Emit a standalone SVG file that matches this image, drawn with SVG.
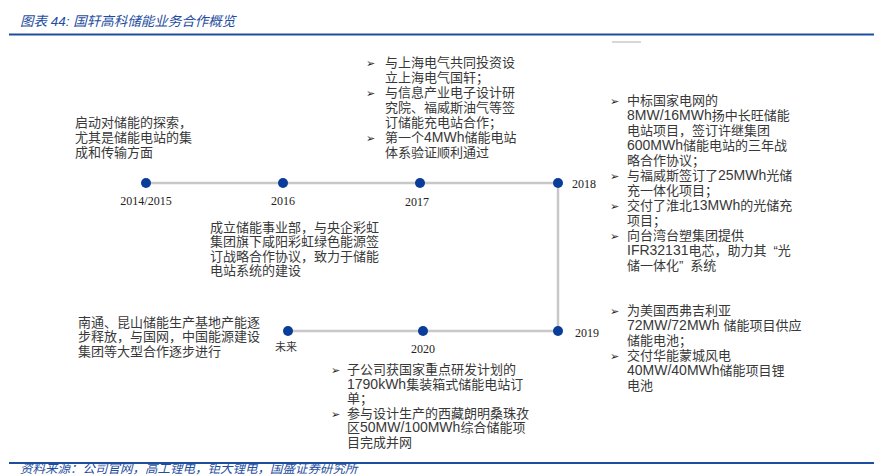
<svg xmlns="http://www.w3.org/2000/svg" width="874" height="476" viewBox="0 0 874 476">
<style>
.t{font-family:"Liberation Sans","Noto Sans CJK SC",sans-serif;font-size:13px;fill:#383838}
.l{font-family:"Liberation Sans","Noto Sans CJK SC",sans-serif;font-size:14px}
.y{font-family:"Liberation Serif",serif;font-size:12px;fill:#222}
.b{font-family:"DejaVu Sans",sans-serif;font-size:11px;fill:#222}
.ttl{font-family:"Liberation Sans","Noto Sans CJK SC",sans-serif;font-size:13.5px;font-style:italic;fill:#1f4e9f}
.src{font-family:"Liberation Sans","Noto Sans CJK SC",sans-serif;font-size:12.5px;font-style:italic;fill:#1f4e9f}
.ln{stroke:#c8c8c8;stroke-width:2.5;fill:none}
.dot{fill:#0a3c99}
</style>
<g id="header">
<text class="ttl" x="20" y="26">图表 44: 国轩高科储能业务合作概览</text>
<line x1="9" y1="34.5" x2="874" y2="34.5" stroke="#1f4e9f" stroke-width="2"/>
<line x1="612" y1="42" x2="641" y2="42" stroke="#b0b0b0" stroke-width="1"/>
</g>
<g id="connectors">
<polyline class="ln" points="146,183 558,183 558,331 288,331"/>
</g>
<g id="n2014">
<circle class="dot" cx="146" cy="183" r="5"/>
<text class="y" x="146" y="205" text-anchor="middle">2014/2015</text>
<text class="t" x="75" y="127">启动对储能的探索，</text>
<text class="t" x="75" y="142">尤其是储能电站的集</text>
<text class="t" x="75" y="157">成和传输方面</text>
</g>
<g id="n2016">
<circle class="dot" cx="283" cy="183" r="5"/>
<text class="y" x="283" y="205" text-anchor="middle">2016</text>
<text class="t" x="210" y="231.5">成立储能事业部，与央企彩虹</text>
<text class="t" x="210" y="246">集团旗下咸阳彩虹绿色能源签</text>
<text class="t" x="210" y="260.5">订战略合作协议，致力于储能</text>
<text class="t" x="210" y="275">电站系统的建设</text>
</g>
<g id="n2017">
<circle class="dot" cx="420" cy="183" r="5"/>
<text class="y" x="417" y="206" text-anchor="middle">2017</text>
<text class="b" x="366" y="67">➢</text>
<text class="t" x="385" y="67">与上海电气共同投资设</text>
<text class="t" x="385" y="82">立上海电气国轩；</text>
<text class="b" x="366" y="97">➢</text>
<text class="t" x="385" y="97">与信息产业电子设计研</text>
<text class="t" x="385" y="112">究院、福威斯油气等签</text>
<text class="t" x="385" y="127">订储能充电站合作；</text>
<text class="b" x="366" y="142">➢</text>
<text class="t" x="385" y="142">第一个<tspan class="l">4MWh</tspan>储能电站</text>
<text class="t" x="385" y="157">体系验证顺利通过</text>
</g>
<g id="n2018">
<circle class="dot" cx="558" cy="183" r="5"/>
<text class="y" x="572" y="188">2018</text>
<text class="b" x="610" y="104.5">➢</text>
<text class="t" x="627" y="104.5">中标国家电网的</text>
<text class="t" x="627" y="119.5"><tspan class="l">8MW/16MWh</tspan>扬中长旺储能</text>
<text class="t" x="627" y="134.5">电站项目，签订许继集团</text>
<text class="t" x="627" y="149.5"><tspan class="l">600MWh</tspan>储能电站的三年战</text>
<text class="t" x="627" y="164.5">略合作协议；</text>
<text class="b" x="610" y="179.5">➢</text>
<text class="t" x="627" y="179.5">与福威斯签订了<tspan class="l">25MWh</tspan>光储</text>
<text class="t" x="627" y="194.5">充一体化项目；</text>
<text class="b" x="610" y="209.5">➢</text>
<text class="t" x="627" y="209.5">交付了淮北<tspan class="l">13MWh</tspan>的光储充</text>
<text class="t" x="627" y="224.5">项目；</text>
<text class="b" x="610" y="239.5">➢</text>
<text class="t" x="627" y="239.5">向台湾台塑集团提供</text>
<text class="t" x="627" y="254.5"><tspan class="l">IFR32131</tspan>电芯，助力其<tspan dx="7">“</tspan>光</text>
<text class="t" x="627" y="269.5">储一体化”<tspan dx="7">系统</tspan></text>
</g>
<g id="n2019">
<circle class="dot" cx="558" cy="331" r="5"/>
<text class="y" x="575" y="337">2019</text>
<text class="b" x="610" y="314.5">➢</text>
<text class="t" x="627" y="314.5">为美国西弗吉利亚</text>
<text class="t" x="627" y="329.5"><tspan class="l">72MW/72MWh </tspan>储能项目供应</text>
<text class="t" x="627" y="344.5">储能电池；</text>
<text class="b" x="610" y="359.5">➢</text>
<text class="t" x="627" y="359.5">交付华能蒙城风电</text>
<text class="t" x="627" y="374.5"><tspan class="l">40MW/40MWh</tspan>储能项目锂</text>
<text class="t" x="627" y="389.5">电池</text>
</g>
<g id="n2020">
<circle class="dot" cx="423" cy="331" r="5"/>
<text class="y" x="423" y="353" text-anchor="middle">2020</text>
<text class="b" x="331" y="374">➢</text>
<text class="t" x="347" y="374">子公司获国家重点研发计划的</text>
<text class="t" x="347" y="388.5"><tspan class="l">1790kWh</tspan>集装箱式储能电站订</text>
<text class="t" x="347" y="403">单；</text>
<text class="b" x="331" y="417.5">➢</text>
<text class="t" x="347" y="417.5">参与设计生产的西藏朗明桑珠孜</text>
<text class="t" x="347" y="432">区<tspan class="l">50MW/100MWh</tspan>综合储能项</text>
<text class="t" x="347" y="446.5">目完成并网</text>
</g>
<g id="nFuture">
<circle class="dot" cx="288" cy="331" r="5"/>
<text class="t" x="286" y="351" text-anchor="middle" style="font-size:11px">未来</text>
<text class="t" x="78" y="326.5">南通、昆山储能生产基地产能逐</text>
<text class="t" x="78" y="341">步释放，与国网，中国能源建设</text>
<text class="t" x="78" y="355.5">集团等大型合作逐步进行</text>
</g>
<g id="footer">
<line x1="9" y1="463" x2="874" y2="463" stroke="#1f4e9f" stroke-width="2"/>
<text class="src" x="20" y="473">资料来源：公司官网，高工锂电，钜大锂电，国盛证券研究所</text>
</g>
</svg>
